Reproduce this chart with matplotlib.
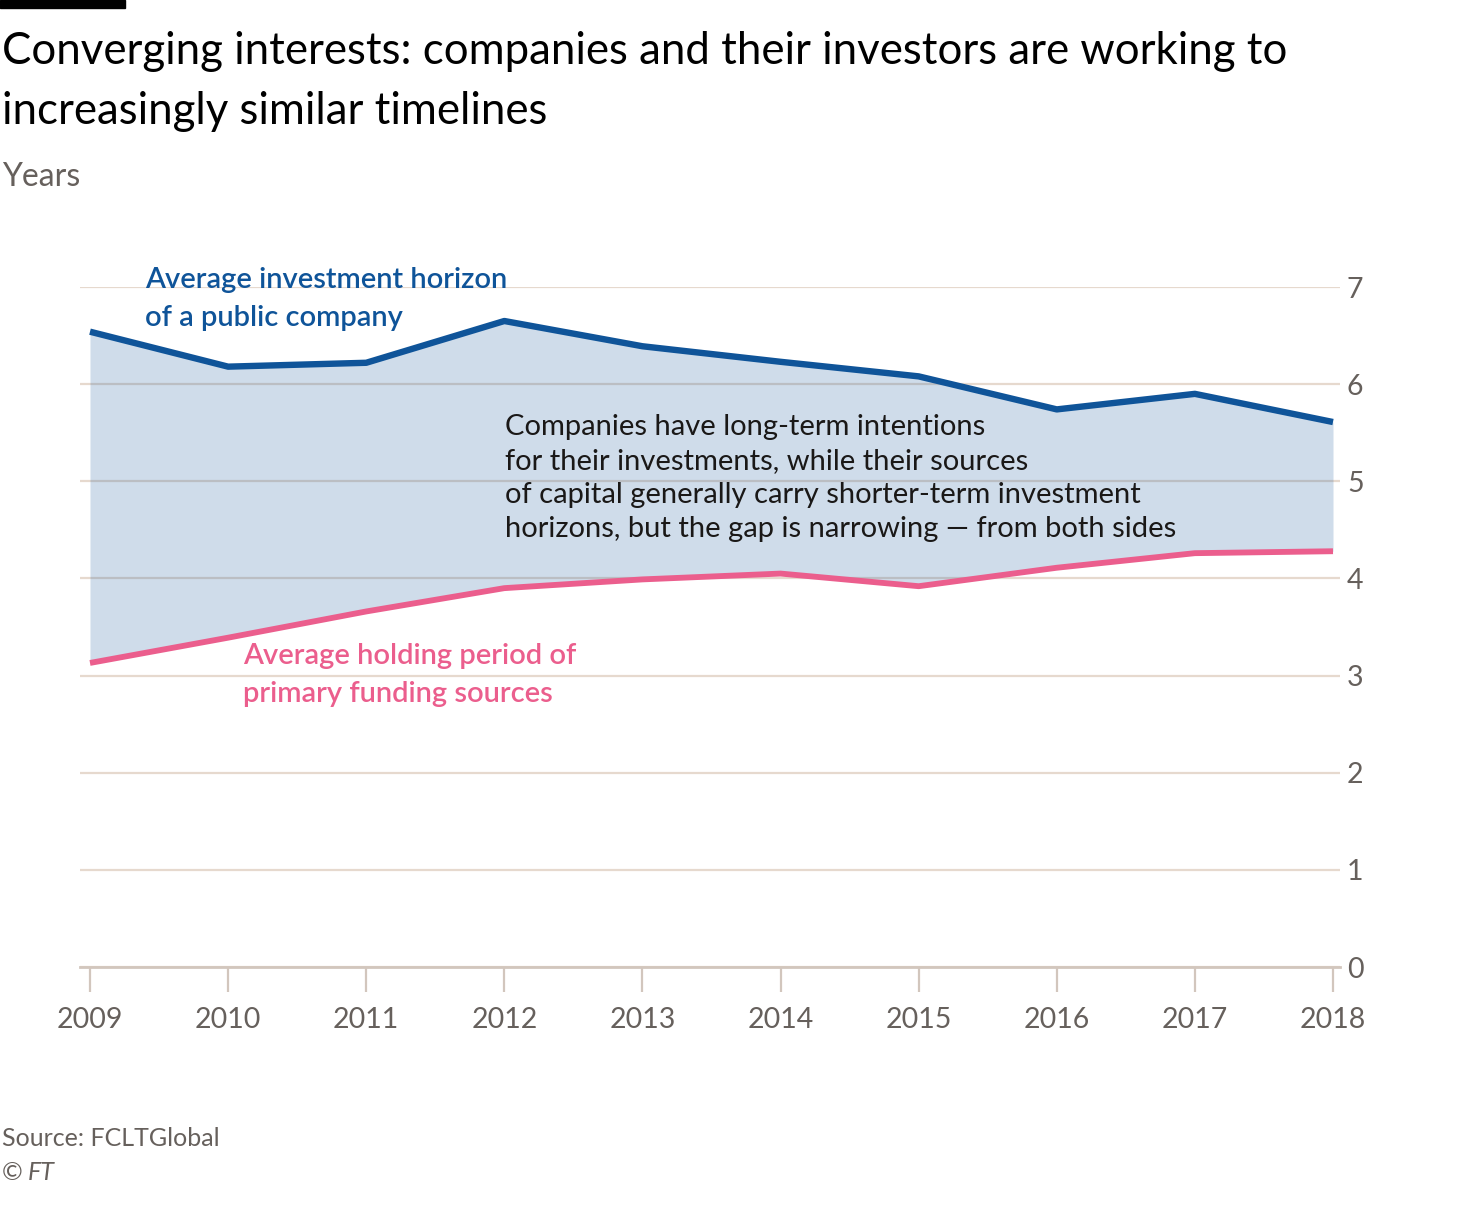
import matplotlib.pyplot as plt
from matplotlib.patches import Rectangle

# data
years = [2009, 2010, 2011, 2012, 2013, 2014, 2015, 2016, 2017, 2018]
company = [6.54, 6.18, 6.22, 6.65, 6.39, 6.23, 6.08, 5.74, 5.90, 5.61]
funding = [3.13, 3.39, 3.66, 3.90, 3.99, 4.05, 3.92, 4.11, 4.26, 4.28]
yticks = [0, 1, 2, 3, 4, 5, 6, 7]

blue = '#0f5499'
pink = '#eb5e8d'
grid = '#e6d9ce'
grey = '#66605c'

plt.rcParams['font.family'] = ['Lato', 'DejaVu Sans']

W, H = 1459, 1218
fig = plt.figure(figsize=(W / 100, H / 100), dpi=100)

def fx(x):
    return x / W

def fy(y):
    return 1 - y / H

ax = fig.add_axes([fx(80), fy(967), fx(1340) - fx(80), fy(287) - fy(967)])

ax.set_ylim(0, 7)
step = (1333 - 90) / 9
ax.set_xlim(2009 - 10 / step, 2018 + 7 / step)

ax.set_yticks(yticks)
ax.yaxis.tick_right()
ax.grid(axis='y', color=grid, lw=1.6, zorder=0)
ax.set_axisbelow(True)
ax.tick_params(axis='y', length=0, pad=5, labelsize=20.5, labelcolor=grey)
ax.set_xticks(years)
ax.tick_params(axis='x', length=18, width=1.6, color='#d2c6bd', pad=11,
               labelsize=20.5, labelcolor=grey)
for s in ['top', 'left', 'right']:
    ax.spines[s].set_visible(False)
ax.spines['bottom'].set_color('#d2c6bd')
ax.spines['bottom'].set_linewidth(2)

#shaded gap between the two lines
ax.fill_between(years, funding, company, color=blue, alpha=0.2, lw=0, zorder=1)
ax.plot(years, company, color=blue, lw=4.6, solid_capstyle='butt', zorder=3)
ax.plot(years, funding, color=pink, lw=4.2, solid_capstyle='butt', zorder=3)

# labels on the chart
fig.text(fx(145), fy(299), 'Average investment horizon\nof a public company',
         color=blue, fontsize=21, fontweight='semibold', va='center',
         linespacing=1.6)
fig.text(fx(243), fy(675), 'Average holding period of\nprimary funding sources',
         color=pink, fontsize=21, fontweight='semibold', va='center',
         linespacing=1.6)
fig.text(fx(505), fy(478),
         'Companies have long-term intentions\n'
         'for their investments, while their sources\n'
         'of capital generally carry shorter-term investment\n'
         'horizons, but the gap is narrowing \u2014 from both sides',
         color='#1a1817', fontsize=21, va='center', linespacing=1.38)

# title block
fig.patches.append(Rectangle((0, fy(8)), fx(125), fy(0) - fy(8),
                             transform=fig.transFigure, color='black'))
fig.text(fx(2), fy(52), 'Converging interests: companies and their investors are working to',
         fontsize=31.5, va='center', color='black')
fig.text(fx(2), fy(111), 'increasingly similar timelines',
         fontsize=31.5, va='center', color='black')
fig.text(fx(2), fy(177), 'Years', fontsize=23, va='center', color=grey)

fig.text(fx(2), fy(1139), 'Source: FCLTGlobal', fontsize=18, va='center', color=grey)
fig.text(fx(2), fy(1172), '\u00a9 ', fontsize=18, va='center', color=grey)
fig.text(fx(28), fy(1172), 'FT', fontsize=18, va='center', color=grey, style='italic')

fig.savefig('out.png', dpi=100)
